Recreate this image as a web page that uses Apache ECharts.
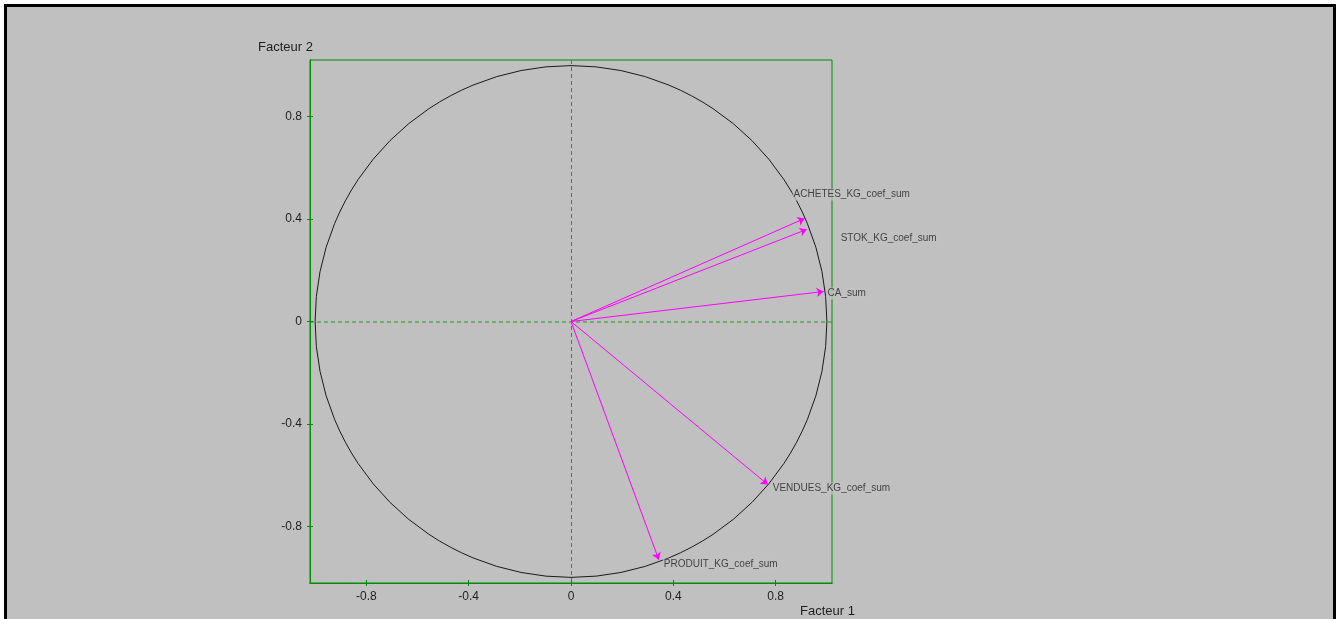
<!DOCTYPE html>
<html><head><meta charset="utf-8">
<script src="https://cdn.jsdelivr.net/npm/echarts@6/dist/echarts.min.js"></script>
<style>html,body{margin:0;padding:0;background:#fff}#c{width:1340px;height:619px}</style>
</head><body><div id="c"></div>
<script>
const variables = ['ACHETES_KG_coef_sum','STOK_KG_coef_sum','CA_sum','VENDUES_KG_coef_sum','PRODUIT_KG_coef_sum'];
const factor1 = [0.913, 0.921, 0.987, 0.769, 0.343];
const factor2 = [0.402, 0.359, 0.117, -0.636, -0.929];
const tickValues = [-0.8, -0.4, 0, 0.4, 0.8];
const axisNames = ['Facteur 1', 'Facteur 2'];
const axisMin = -1.02, axisMax = 1.02;

const labelOffsets = [[-12,-24],[33,9],[3,2],[4,4],[4,5]];
const FONT = 'Liberation Sans, Arial, sans-serif';
const GREEN = '#008c00';
const DASH_GREEN = '#1f9a1f';

const chart = echarts.init(document.getElementById('c'), null, {renderer:'canvas'});

function mkAxis(extra){
  return Object.assign({
    type:'value', min:axisMin, max:axisMax,
    axisLine:{show:true, onZero:false, lineStyle:{color:GREEN, width:1}},
    axisTick:{show:true, customValues:tickValues, length:3, lineStyle:{color:GREEN}},
    axisLabel:{show:true, customValues:tickValues, color:'#1e1e1e', fontSize:12, fontFamily:FONT, margin:8,
      formatter:v=>String(+v.toFixed(2))},
    splitLine:{show:false}
  }, extra);
}

const option = {
  animation:false,
  backgroundColor:'#ffffff',
  grid:{left:310, right:508, top:60, bottom:36, show:true, borderColor:GREEN, borderWidth:1, backgroundColor:'transparent'},
  xAxis:[
    mkAxis({position:'bottom'}),
    mkAxis({position:'bottom', axisTick:{show:true, inside:true, customValues:tickValues, length:3, lineStyle:{color:GREEN}}, axisLabel:{show:false}})
  ],
  yAxis:[
    mkAxis({position:'left'}),
    mkAxis({position:'left', axisTick:{show:true, inside:true, customValues:tickValues, length:3, lineStyle:{color:GREEN}}, axisLabel:{show:false}})
  ],
  series:[
    {
      type:'lines', coordinateSystem:'cartesian2d', xAxisIndex:0, yAxisIndex:0, z:3,
      symbol:['none','arrow'], symbolSize:[0,7],
      lineStyle:{color:'#ff00ff', width:1, opacity:1, curveness:0},
      data: variables.map((n,i)=>({coords:[[0,0],[factor1[i],factor2[i]]]}))
    },
    {
      type:'scatter', xAxisIndex:0, yAxisIndex:0, symbolSize:0, z:4,
      data: variables.map((n,i)=>({name:n, value:[factor1[i],factor2[i]],
        label:{show:true, position:'right', distance:0, offset:labelOffsets[i], formatter:'{b}',
          color:'#1e1e1e', fontSize:10, fontFamily:FONT, backgroundColor:'#c0c0c0', padding:[1,1]}}))
    }
  ]
};
chart.setOption(option);

const px = v => chart.convertToPixel({xAxisIndex:0, yAxisIndex:0}, v);
const c0 = px([0,0]);
const c1 = px([1,0]);
const vTop = px([0,axisMax]), vBot = px([0,axisMin]);
const hL = px([axisMin,0]), hR = px([axisMax,0]);
chart.setOption({
  graphic:[
    {type:'rect', z:-100, silent:true, shape:{x:5.5, y:5.5, width:1329, height:640}, style:{fill:'#c0c0c0', stroke:'#000', lineWidth:3}},
    {type:'line', z:0, silent:true, shape:{x1:Math.round(vTop[0])+0.5, y1:vTop[1], x2:Math.round(vBot[0])+0.5, y2:vBot[1]}, style:{stroke:DASH_GREEN, lineWidth:1, lineDash:[4,3]}},
    {type:'line', z:0, silent:true, shape:{x1:hL[0], y1:Math.round(hL[1]), x2:hR[0], y2:Math.round(hR[1])}, style:{stroke:DASH_GREEN, lineWidth:1, lineDash:[4,3]}},
    {type:'circle', z:1, silent:true, shape:{cx:c0[0], cy:c0[1], r:c1[0]-c0[0]}, style:{fill:null, stroke:'#1a1a1a', lineWidth:1}},
    {type:'text', silent:true, left:258, top:41, style:{text:axisNames[1], font:'13px '+FONT, fill:'#1e1e1e'}},
    {type:'text', silent:true, left:800, top:605, style:{text:axisNames[0], font:'13px '+FONT, fill:'#1e1e1e'}}
  ]
});
</script></body></html>
